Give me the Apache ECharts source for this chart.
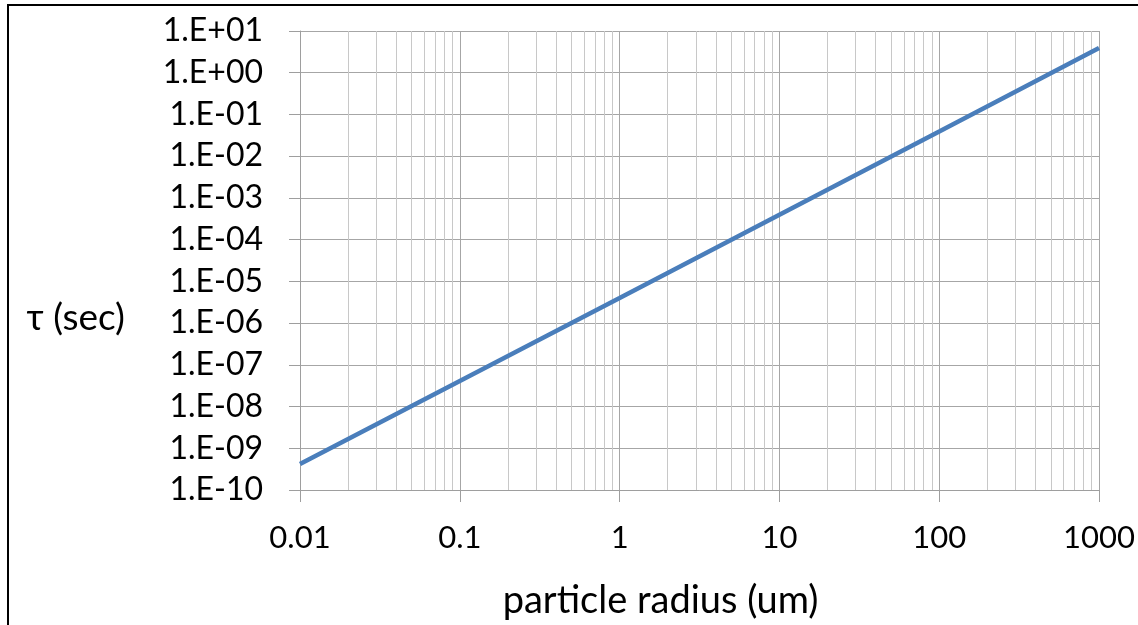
<!DOCTYPE html>
<html>
<head>
<meta charset="utf-8">
<script src="https://cdn.jsdelivr.net/npm/echarts@6/dist/echarts.min.js"></script>
<style>
html,body{margin:0;padding:0;background:#fff;}
#chart{width:1138px;height:625px;}
</style>
</head>
<body>
<div id="chart"></div>
<script>
// Data
const radiusUm = [0.01, 0.1, 1, 10, 100, 1000];
const tauSec = [4.2e-10, 4.1e-8, 4.0e-6, 3.95e-4, 3.9e-2, 3.9];
// Axis tick definitions
const xDecades = [0.01, 0.1, 1, 10, 100];
const minorMultipliers = [2, 3, 4, 5, 6, 7, 8, 9];
const xMin = 0.01, xMax = 1000;
const yMin = 1e-10, yMax = 10;
const xTitle = 'particle radius (um)';
const yTitle = 'τ (sec)';

const minorLines = [];
xDecades.forEach(d => minorMultipliers.forEach(m => minorLines.push({xAxis: +(d * m).toPrecision(3)})));

function fmtY(v) {
  const e = Math.round(Math.log10(v));
  const s = e < 0 ? '-' : '+';
  const a = Math.abs(e);
  return '1.E' + s + (a < 10 ? '0' + a : '' + a);
}

const FONT = 'Lato, "Open Sans", sans-serif';
const chart = echarts.init(document.getElementById('chart'));
chart.setOption({
  animation: false,
  backgroundColor: '#fff',
  grid: {left: 300, right: 38, top: 31, bottom: 133, containLabel: false},
  xAxis: {
    type: 'log', logBase: 10, min: xMin, max: xMax, interval: 1,
    name: xTitle, nameLocation: 'middle', nameGap: 92,
    nameTextStyle: {fontFamily: FONT, fontSize: 38, color: '#000', padding: [0, 78, 0, 0]},
    axisLine: {show: true, lineStyle: {color: '#9e9e9e', width: 1}},
    axisTick: {show: true, length: 12, lineStyle: {color: '#9e9e9e'}},
    axisLabel: {fontFamily: FONT, fontSize: 31, color: '#000', margin: 32, formatter: v => String(v)},
    splitLine: {show: true, lineStyle: {color: '#a6a6a6', width: 1}},
    minorTick: {show: false}, minorSplitLine: {show: false}
  },
  yAxis: {
    type: 'log', logBase: 10, min: yMin, max: yMax, interval: 1,
    axisLine: {show: true, lineStyle: {color: '#9e9e9e', width: 1}},
    axisTick: {show: true, length: 11, lineStyle: {color: '#9e9e9e'}},
    axisLabel: {fontFamily: FONT, fontSize: 32, color: '#000', margin: 37, formatter: fmtY},
    splitLine: {show: true, lineStyle: {color: '#a6a6a6', width: 1}}
  },
  series: [{
    type: 'line',
    data: radiusUm.map((x, i) => [x, tauSec[i]]),
    showSymbol: false, symbol: 'none',
    lineStyle: {color: '#4a7ebb', width: 4.5},
    z: 5,
    markLine: {
      silent: true, symbol: ['none', 'none'],
      label: {show: false},
      lineStyle: {color: '#c8c8c8', width: 1, type: 'solid'},
      data: minorLines,
      z: 1
    }
  }],
  graphic: [
    {type: 'line', shape: {x1: 8, y1: 5, x2: 8, y2: 625}, style: {stroke: '#000', lineWidth: 2}},
    {type: 'line', shape: {x1: 7, y1: 5, x2: 1138, y2: 5}, style: {stroke: '#000', lineWidth: 2}},
    {type: 'text', x: 125, y: 318, style: {text: yTitle, fontFamily: FONT, fontSize: 37, fill: '#000', align: 'right', verticalAlign: 'middle'}}
  ]
});
</script>
</body>
</html>
